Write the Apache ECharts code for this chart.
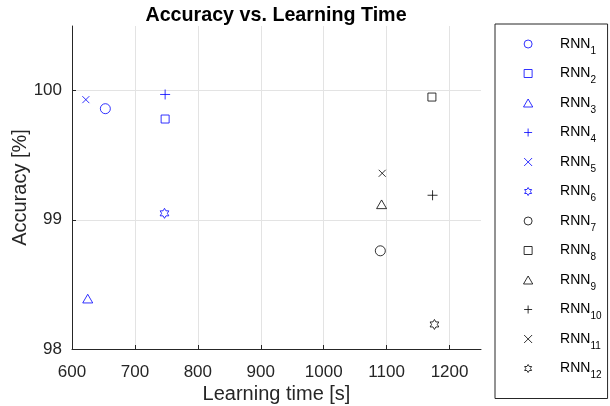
<!DOCTYPE html>
<html>
<head>
<meta charset="utf-8">
<script src="https://cdn.jsdelivr.net/npm/echarts@6/dist/echarts.min.js"></script>
<style>html,body{margin:0;padding:0;background:#fff;}#c{width:610px;height:406px;}</style>
</head>
<body>
<div id="c"></div>
<script>
const rnnNames = ['RNN1','RNN2','RNN3','RNN4','RNN5','RNN6','RNN7','RNN8','RNN9','RNN10','RNN11','RNN12'];
const learningTime = [653, 748, 625, 748, 622, 747, 1090, 1172, 1092, 1173, 1093, 1176];
const accuracy = [99.86, 99.78, 98.39, 99.97, 99.93, 99.05, 98.76, 99.95, 99.12, 99.19, 99.36, 98.19];
const xTicks = [600, 700, 800, 900, 1000, 1100, 1200];
const yTicks = [98, 99, 100];

const FONT = '"Liberation Sans", Arial, Helvetica, sans-serif';
const symbolDefs = [
  {symbol: 'circle', size: 10},
  {symbol: 'path://M0,0L10,0L10,10L0,10Z', size: 8},
  {symbol: 'path://M5,0L10,8.66L0,8.66Z', size: 10},
  {symbol: 'path://M5,0L5,10M0,5L10,5', size: 10},
  {symbol: 'path://M0,0L10,10M10,0L0,10', size: 7},
  {symbol: 'path://M10,0L12.887,5L18.66,5L15.774,10L18.66,15L12.887,15L10,20L7.113,15L1.34,15L4.226,10L1.34,5L7.113,5Z', size: 10}
];
const colorsBySeries = ['#0000ff','#0000ff','#0000ff','#0000ff','#0000ff','#0000ff','#000000','#000000','#000000','#000000','#000000','#000000'];

const series = rnnNames.map((name, i) => {
  const sd = symbolDefs[i % 6];
  return {
    name: name,
    type: 'scatter',
    data: [[learningTime[i], accuracy[i]]],
    symbol: sd.symbol,
    symbolSize: sd.size,
    symbolKeepAspect: true,
    itemStyle: {color: 'rgba(0,0,0,0)', borderColor: colorsBySeries[i], borderWidth: 1},
    emphasis: {disabled: true}
  };
});

const chart = echarts.init(document.getElementById('c'), null, {renderer: 'canvas'});
chart.setOption({
  animation: false,
  backgroundColor: '#fff',
  title: {
    text: 'Accuracy vs. Learning Time',
    left: 271, top: 1, textAlign: 'center',
    textStyle: {fontFamily: FONT, fontSize: 19.7, fontWeight: 'bold', color: '#000'}
  },
  grid: {left: 72, right: 129, top: 26, bottom: 57, containLabel: false, outerBoundsMode: 'none'},
  xAxis: {
    type: 'value', min: 600, max: 1250, interval: 100,
    name: 'Learning time [s]', nameLocation: 'middle', nameGap: 35, nameMoveOverlap: false,
    nameTextStyle: {fontFamily: FONT, fontSize: 20, color: '#262626'},
    axisLine: {show: true, lineStyle: {color: '#262626', width: 1}},
    axisTick: {show: true, inside: true, length: 4, lineStyle: {color: '#262626'}},
    axisLabel: {fontFamily: FONT, fontSize: 17, color: '#262626', margin: 15, showMaxLabel: false,
      formatter: v => xTicks.includes(v) ? String(v) : ''},
    splitLine: {show: true, showMinLine: false, showMaxLine: false, lineStyle: {color: '#e3e3e3', width: 1}}
  },
  yAxis: {
    type: 'value', min: 98, max: 100.5, interval: 1,
    name: 'Accuracy [%]', nameLocation: 'middle', nameGap: 42, nameMoveOverlap: false,
    nameTextStyle: {fontFamily: FONT, fontSize: 20, color: '#262626'},
    axisLine: {show: true, lineStyle: {color: '#262626', width: 1}},
    axisTick: {show: true, inside: true, length: 4, lineStyle: {color: '#262626'}},
    axisLabel: {fontFamily: FONT, fontSize: 17, color: '#262626', margin: 10, showMaxLabel: false,
      formatter: v => yTicks.includes(v) ? String(v) : ''},
    splitLine: {show: true, showMinLine: false, showMaxLine: false, lineStyle: {color: '#e3e3e3', width: 1}}
  },
  legend: {
    orient: 'vertical', left: 495, top: 24,
    data: rnnNames,
    padding: [13, 6, 18, 28],
    itemGap: 10.5,
    itemWidth: 54, itemHeight: 8,
    borderColor: '#262626', borderWidth: 1,
    selectedMode: false,
    itemStyle: {borderWidth: 1},
    formatter: n => '{m|RNN}{s|' + n.replace('RNN', '') + '}',
    textStyle: {
      fontFamily: FONT, color: '#000',
      rich: {
        m: {fontFamily: FONT, fontSize: 14, color: '#000'},
        s: {fontFamily: FONT, fontSize: 10, color: '#000', padding: [14, 0, 0, 0]}
      }
    }
  },
  series: series
});
</script>
</body>
</html>
